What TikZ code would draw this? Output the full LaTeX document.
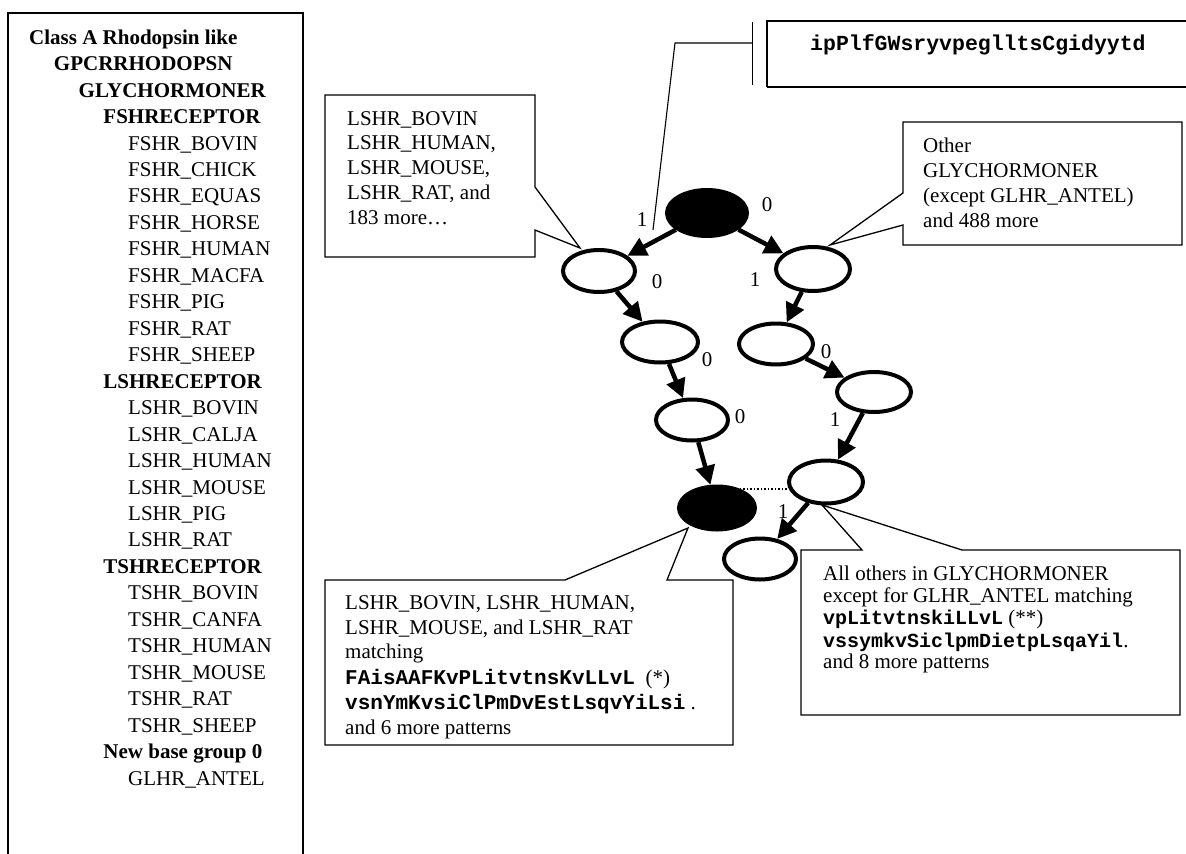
\documentclass[tikz,border=0pt]{standalone}
\usepackage{fontspec}
\setmainfont{Liberation Serif}
\setmonofont{Liberation Mono}
\usetikzlibrary{shapes.geometric,arrows.meta}
\begin{document}
\begin{tikzpicture}[x=1pt,y=-1pt,
  state/.style={ellipse,draw=black,line width=4pt,inner sep=0pt,fill=white},
  darkstate/.style={state,fill=black},
  edge/.style={line width=4.5pt,-{Triangle[length=19pt,width=19pt]}},
  lab/.style={font=\fontsize{21}{24}\selectfont,inner sep=0pt},
  box/.style={line width=1.3pt,fill=white},
  txt/.style={font=\fontsize{21}{25}\selectfont,inner sep=0pt,anchor=base west},
  stxt/.style={font=\fontsize{21}{22}\selectfont,inner sep=0pt,anchor=base west},
  pat/.style={font=\fontsize{21.5}{25}\selectfont\ttfamily\bfseries}
]
\useasboundingbox (0,0) rectangle (1186,854);

% left hierarchy box
\draw[line width=2pt] (8,880) -- (8,13) -- (303,13) -- (303,880);
\foreach \lv/\tx [count=\i from 0] in {
  0/\bfseries Class A Rhodopsin like,
  1/\bfseries GPCRRHODOPSN,
  2/\bfseries GLYCHORMONER,
  3/\bfseries FSHRECEPTOR,
  4/FSHR\_BOVIN, 4/FSHR\_CHICK, 4/FSHR\_EQUAS, 4/FSHR\_HORSE, 4/FSHR\_HUMAN,
  4/FSHR\_MACFA, 4/FSHR\_PIG, 4/FSHR\_RAT, 4/FSHR\_SHEEP,
  3/\bfseries LSHRECEPTOR,
  4/LSHR\_BOVIN, 4/LSHR\_CALJA, 4/LSHR\_HUMAN, 4/LSHR\_MOUSE, 4/LSHR\_PIG, 4/LSHR\_RAT,
  3/\bfseries TSHRECEPTOR,
  4/TSHR\_BOVIN, 4/TSHR\_CANFA, 4/TSHR\_HUMAN, 4/TSHR\_MOUSE, 4/TSHR\_RAT, 4/TSHR\_SHEEP,
  3/\bfseries New base group 0,
  4/GLHR\_ANTEL}
  \node[txt] (lst\i) at ({29+24.75*\lv},{44.2+26.46*\i}) {\tx};

% top pattern box with accent-bar callout
\draw[line width=1.3pt] (767,87) -- (767,21) -- (1200,21);
\draw[line width=1.3pt] (767,87) -- (1200,87);
\node[pat,anchor=base west,inner sep=0pt] (toppat) at (810,50) {ipPlfGWsryvpeglltsCgidyytd};
\draw[line width=1pt] (752,22) -- (752,85);
\coordinate (topbend) at (675,43);
\coordinate (toptip) at (653,230);
\draw[line width=1.1pt] (752,43) -- (topbend) -- (toptip);

% callout: LSHR box
\coordinate (t1) at (580,248);
\draw[box] (535,187) -- (535,95) -- (325,95) -- (325,257) -- (535,257) -- (535,230) -- (t1) -- cycle;
\foreach \tx [count=\i from 0] in {LSHR\_BOVIN, {LSHR\_HUMAN,}, {LSHR\_MOUSE,}, {LSHR\_RAT, and}, 183 more\dots}
  \node[txt] (ta\i) at (347,{125+24.8*\i}) {\tx};

% callout: Other box
\coordinate (t2) at (830,245);
\draw[box] (903,193) -- (903,122) -- (1182,122) -- (1182,245) -- (903,245) -- (903,225) -- (t2) -- cycle;
\foreach \tx [count=\i from 0] in {Other, GLYCHORMONER, (except GLHR\_ANTEL), and 488 more}
  \node[txt] (tb\i) at (923,{152+25*\i}) {\tx};

% callout: bottom-left box
\coordinate (t3) at (688,528);
\draw[box] (565,580) -- (325,580) -- (325,745) -- (733,745) -- (733,580) -- (667,580) -- (t3) -- cycle;
\node[txt] (tc0) at (345,609) {LSHR\_BOVIN, LSHR\_HUMAN,};
\node[txt] (tc1) at (345,634) {LSHR\_MOUSE, and LSHR\_RAT};
\node[txt] (tc2) at (345,658) {matching};
\node[txt] (tc3) at (345,684) {{\fontsize{21}{25}\selectfont\ttfamily\bfseries FAisAAFKvPLitvtnsKvLLvL}\ \ (*)};
\node[txt] (tc4) at (345,709) {{\fontsize{21}{25}\selectfont\ttfamily\bfseries vsnYmKvsiClPmDvEstLsqvYiLsi} .};
\node[txt] (tc5) at (345,734) {and 6 more patterns};

% callout: bottom-right box
\coordinate (t4) at (822,505);
\draw[box] (862,550) -- (801,550) -- (801,715) -- (1180,715) -- (1180,550) -- (962,550) -- (t4) -- cycle;
\node[stxt] (td0) at (823,580) {All others in GLYCHORMONER};
\node[stxt] (td1) at (823,602) {except for GLHR\_ANTEL matching};
\node[stxt] (td2) at (823,624) {{\fontsize{20}{22}\selectfont\ttfamily\bfseries vpLitvtnskiLLvL} (**)};
\node[stxt] (td3) at (823,647) {{\fontsize{20}{22}\selectfont\ttfamily\bfseries vssymkvSiclpmDietpLsqaYil}.};
\node[stxt] (td4) at (823,668) {and 8 more patterns};

% states
\node[darkstate,minimum width=80pt,minimum height=46pt] (root) at (707,213) {};
\node[state,minimum width=72pt,minimum height=42pt] (L1) at (599,271) {};
\node[state,minimum width=74pt,minimum height=44pt] (R1) at (813,269) {};
\node[state,minimum width=76pt,minimum height=41pt] (L2) at (660,342) {};
\node[state,minimum width=74pt,minimum height=41pt] (R2) at (776,344) {};
\node[state,minimum width=72pt,minimum height=41pt] (L3) at (692,420) {};
\node[state,minimum width=74pt,minimum height=40pt] (R3) at (874,392) {};
\node[darkstate,minimum width=76pt,minimum height=43pt] (L4) at (717,508) {};
\node[state,minimum width=74pt,minimum height=43pt] (R4) at (826,482) {};
\node[state,minimum width=72pt,minimum height=41pt] (R5) at (760,559) {};

% edges
\draw[edge] (root) -- (L1);
\draw[edge] (root) -- (R1);
\draw[edge] (L1) -- (L2);
\draw[edge] (R1) -- (R2);
\draw[edge] (L2) -- (L3);
\draw[edge] (R2) -- (R3);
\draw[edge] (L3) -- (L4);
\draw[edge] (R3) -- (R4);
\draw[edge] (R4) -- (R5);
\draw[dotted,line width=1.5pt] (L4.40) -- (L4.40 -| R4.west);

% edge labels
\node[lab] (e1) at (642,220) {1};
\node[lab] (e2) at (767,205) {0};
\node[lab] (e3) at (657,282) {0};
\node[lab] (e4) at (755,280) {1};
\node[lab] (e5) at (707,360) {0};
\node[lab] (e6) at (826,352) {0};
\node[lab] (e7) at (740,417) {0};
\node[lab] (e8) at (835,420) {1};
\node[lab] (e9) at (783,512) {1};
\end{tikzpicture}
\end{document}
